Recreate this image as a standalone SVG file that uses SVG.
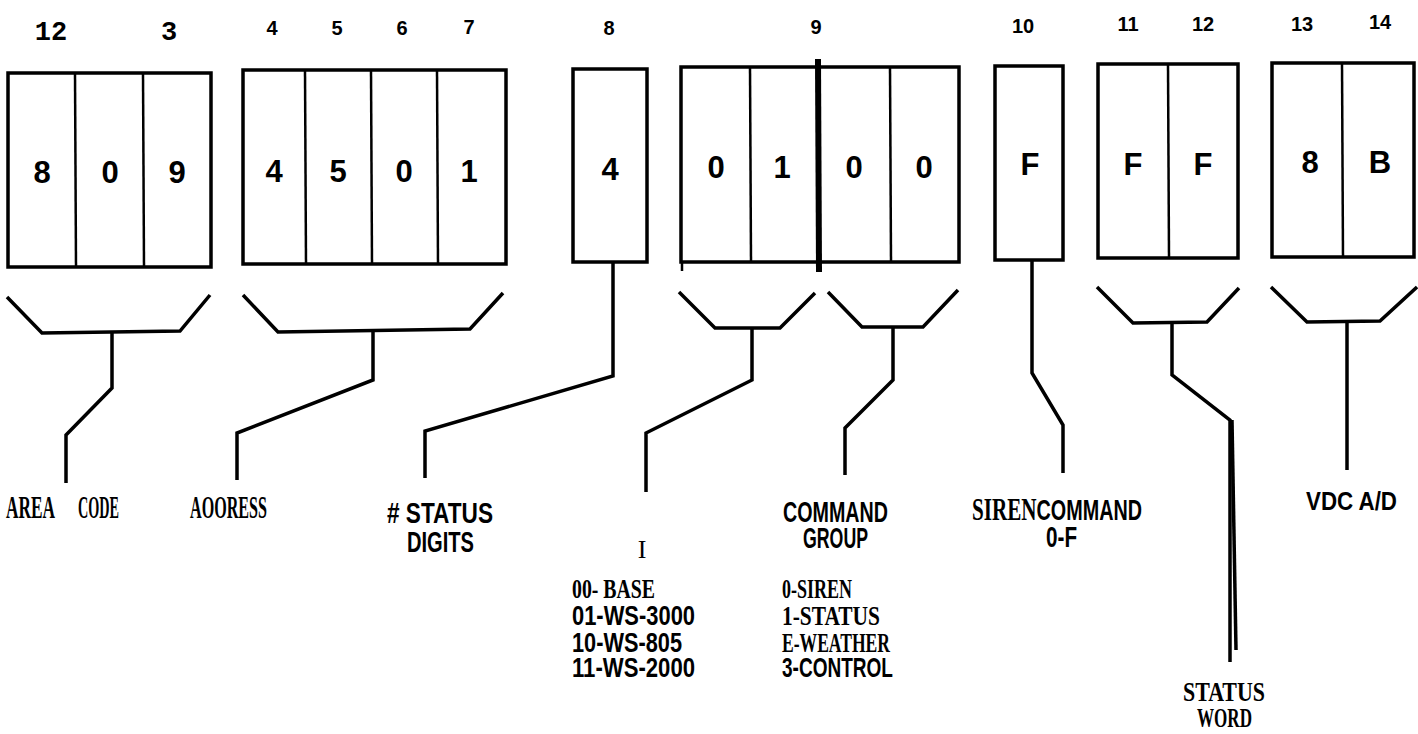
<svg xmlns="http://www.w3.org/2000/svg" width="1418" height="734" viewBox="0 0 1418 734">
<style>
.bg{fill:#fff}
.box{fill:#fff;stroke:#000;stroke-width:3.5}
.div{stroke:#000;stroke-width:2.5;fill:none}
.ln{fill:none;stroke:#000;stroke-width:3.5;stroke-linejoin:miter;stroke-linecap:butt}
.mono{font-family:"Liberation Mono","DejaVu Sans Mono",monospace;font-weight:bold;font-size:27px;text-anchor:middle}
.num{font-family:"Liberation Sans",Arial,sans-serif;font-weight:bold;font-size:20px;text-anchor:middle}
.dig{font-family:"Liberation Sans",Arial,sans-serif;font-weight:bold;font-size:31px;text-anchor:middle}
.ser{font-family:"Liberation Serif","Times New Roman",serif;font-weight:bold;font-size:31px}
.san{font-family:"Liberation Sans",Arial,sans-serif;font-weight:bold;font-size:29px}
.ls{font-size:28px}
.sw{font-size:28px}
.vd{font-size:25px}
.thin{font-family:"Liberation Serif","Times New Roman",serif;font-size:26px;text-anchor:middle}
</style>
<rect class="bg" x="0" y="0" width="1418" height="734"/>

<g id="positions">
<text class="mono" x="51" y="40">12</text>
<text class="mono" x="169" y="40">3</text>
<text class="num" x="272" y="35">4</text>
<text class="num" x="337" y="35">5</text>
<text class="num" x="402" y="35">6</text>
<text class="num" x="469" y="34">7</text>
<text class="num" x="609" y="35">8</text>
<text class="num" x="816" y="34">9</text>
<text class="num" x="1023" y="33">10</text>
<text class="num" x="1128" y="31">11</text>
<text class="num" x="1203" y="31">12</text>
<text class="num" x="1302" y="31">13</text>
<text class="num" x="1380" y="29">14</text>
</g>

<g id="field-area-code">
<rect class="box" x="8" y="73" width="203" height="194"/>
<line class="div" x1="75" y1="73" x2="76" y2="267"/>
<line class="div" x1="143" y1="73" x2="144" y2="267"/>
<text class="dig" x="42" y="183">8</text>
<text class="dig" x="110" y="183">0</text>
<text class="dig" x="177" y="183">9</text>
</g>

<g id="field-address">
<rect class="box" x="243" y="70" width="263" height="194"/>
<line class="div" x1="305" y1="70" x2="306" y2="264"/>
<line class="div" x1="371" y1="70" x2="372" y2="264"/>
<line class="div" x1="437" y1="70" x2="438" y2="264"/>
<text class="dig" x="274" y="182">4</text>
<text class="dig" x="338" y="182">5</text>
<text class="dig" x="404" y="182">0</text>
<text class="dig" x="469" y="182">1</text>
</g>

<g id="field-status-digits">
<rect class="box" x="573" y="69" width="74" height="193"/>
<text class="dig" x="610" y="180">4</text>
</g>

<g id="field-unit-command">
<rect class="box" x="681" y="67" width="278" height="195"/>
<line class="div" x1="682" y1="262" x2="682" y2="271"/>
<line class="div" x1="750" y1="67" x2="751" y2="262"/>
<line class="div" x1="890" y1="67" x2="891" y2="262"/>
<line stroke="#000" stroke-width="6" x1="818" y1="59" x2="819" y2="272"/>
<text class="dig" x="716" y="178">0</text>
<text class="dig" x="782" y="178">1</text>
<text class="dig" x="854" y="178">0</text>
<text class="dig" x="924" y="178">0</text>
</g>

<g id="field-siren-command">
<rect class="box" x="995" y="66" width="68" height="194"/>
<text class="dig" x="1030" y="175">F</text>
</g>

<g id="field-status-word">
<rect class="box" x="1098" y="64" width="140" height="194"/>
<line class="div" x1="1168" y1="64" x2="1169" y2="258"/>
<text class="dig" x="1133" y="175">F</text>
<text class="dig" x="1203" y="175">F</text>
</g>

<g id="field-vdc">
<rect class="box" x="1272" y="63" width="142" height="194"/>
<line class="div" x1="1342" y1="63" x2="1343" y2="257"/>
<text class="dig" x="1310" y="173">8</text>
<text class="dig" x="1380" y="173">B</text>
</g>

<g id="connectors">
<path class="ln" d="M7,297 L42,333 L180,331 L210,295"/>
<path class="ln" d="M112,332 L112,388 L66,435 L66,483"/>
<path class="ln" d="M243,295 L278,332 L470,329 L503,293"/>
<path class="ln" d="M373,331 L373,380 L237,433 L237,480"/>
<path class="ln" d="M613,262 L613,376 L425,431 L425,478"/>
<path class="ln" d="M679,292 L715,328 L780,328 L815,293"/>
<path class="ln" d="M752,328 L752,380 L646,433 L646,492"/>
<path class="ln" d="M828,292 L862,327 L923,327 L958,290"/>
<path class="ln" d="M893,327 L893,380 L845,428 L845,475"/>
<path class="ln" d="M1032,260 L1032,373 L1063,425 L1063,473"/>
<path class="ln" d="M1097,287 L1133,323 L1207,322 L1239,288"/>
<path class="ln" d="M1172,323 L1172,375 L1230,420 L1230,662"/>
<path class="ln" stroke-width="2.5" d="M1232,420 L1236,650"/>
<path class="ln" d="M1271,287 L1307,322 L1380,321 L1417,287"/>
<path class="ln" d="M1347,322 L1347,470"/>
</g>

<g id="label-area-code">
<text class="ser" x="6" y="518" textLength="49" lengthAdjust="spacingAndGlyphs">AREA</text>
<text class="ser" x="78" y="518" textLength="41" lengthAdjust="spacingAndGlyphs">CODE</text>
</g>

<g id="label-address">
<text class="ser" x="190" y="518" textLength="77" lengthAdjust="spacingAndGlyphs">AOORESS</text>
</g>

<g id="label-status-digits">
<text class="san" x="387" y="523" textLength="106" lengthAdjust="spacingAndGlyphs"># STATUS</text>
<text class="san" x="407" y="552" textLength="67" lengthAdjust="spacingAndGlyphs">DIGITS</text>
</g>

<g id="label-unit-type">
<text class="thin" x="642" y="558">I</text>
<text class="ser ls" x="572" y="598" textLength="83" lengthAdjust="spacingAndGlyphs">00- BASE</text>
<text class="san ls" x="572" y="625" textLength="123" lengthAdjust="spacingAndGlyphs">01-WS-3000</text>
<text class="san ls" x="572" y="652" textLength="110" lengthAdjust="spacingAndGlyphs">10-WS-805</text>
<text class="san ls" x="572" y="677" textLength="123" lengthAdjust="spacingAndGlyphs">11-WS-2000</text>
</g>

<g id="label-command-group">
<text class="san" x="783" y="522" textLength="105" lengthAdjust="spacingAndGlyphs">COMMAND</text>
<text class="san" x="803" y="548" textLength="65" lengthAdjust="spacingAndGlyphs">GROUP</text>
<text class="ser ls" x="782" y="598" textLength="70" lengthAdjust="spacingAndGlyphs">0-SIREN</text>
<text class="ser ls" x="782" y="625" textLength="98" lengthAdjust="spacingAndGlyphs">1-STATUS</text>
<text class="ser ls" x="782" y="652" textLength="108" lengthAdjust="spacingAndGlyphs">E-WEATHER</text>
<text class="san ls" x="782" y="677" textLength="111" lengthAdjust="spacingAndGlyphs">3-CONTROL</text>
</g>

<g id="label-siren-command">
<text class="san" x="972" y="520" textLength="170" lengthAdjust="spacingAndGlyphs"><tspan class="ser">SIREN</tspan><tspan>COMMAND</tspan></text>
<text class="san" x="1046" y="547" textLength="31" lengthAdjust="spacingAndGlyphs">0-F</text>
</g>

<g id="label-status-word">
<text class="ser sw" x="1183" y="701" textLength="82" lengthAdjust="spacingAndGlyphs">STATUS</text>
<text class="ser sw" x="1197" y="727" textLength="55" lengthAdjust="spacingAndGlyphs">WORD</text>
</g>

<g id="label-vdc">
<text class="san vd" x="1306" y="510" textLength="91" lengthAdjust="spacingAndGlyphs">VDC A/D</text>
</g>
</svg>
